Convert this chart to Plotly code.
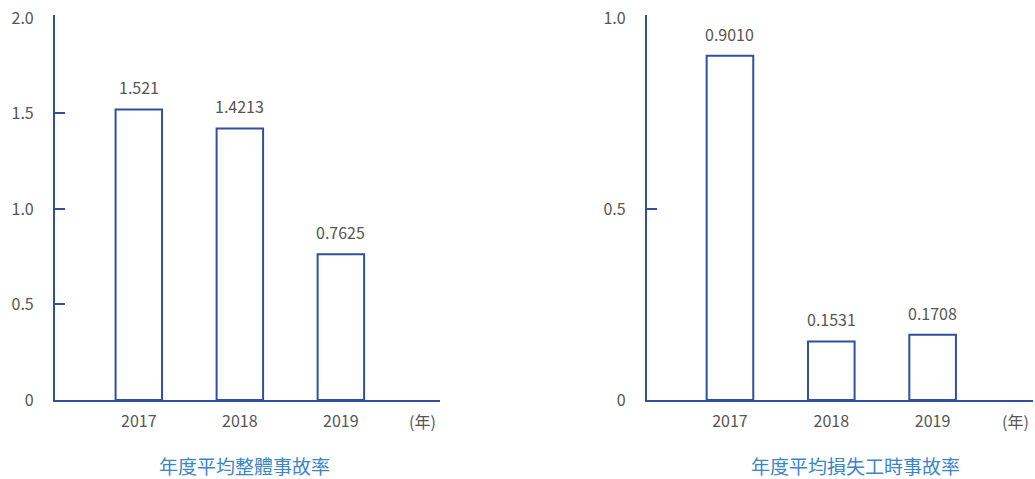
import plotly.graph_objects as go

years = ["2017", "2018", "2019"]
overall_rate = [1.521, 1.4213, 0.7625]
overall_labels = ["1.521", "1.4213", "0.7625"]
lost_time_rate = [0.9010, 0.1531, 0.1708]
lost_time_labels = ["0.9010", "0.1531", "0.1708"]
left_ticks = [0, 0.5, 1.0, 1.5, 2.0]
left_ticktext = ["0", "0.5", "1.0", "1.5", "2.0"]
left_marks = [0.5, 1.0, 1.5]
right_ticks = [0, 0.5, 1.0]
right_ticktext = ["0", "0.5", "1.0"]
right_marks = [0.5]
title_left = "年度平均整體事故率"
title_right = "年度平均損失工時事故率"
unit_label = "(年)"

AX = "#2f4f9f"
TXT = "#555555"
TITLE = "#3a86c8"
FONT = "Noto Sans CJK TC"
FS = 16

fig = go.Figure()
xpos = [0, 1, 2]

for vals, xa, ya in [(overall_rate, "x", "y"), (lost_time_rate, "x2", "y2")]:
    fig.add_trace(go.Bar(
        x=xpos, y=vals,
        marker=dict(color="white", line=dict(color=AX, width=2)),
        width=0.46, cliponaxis=False, xaxis=xa, yaxis=ya, showlegend=False,
        hoverinfo="skip",
    ))

# invisible helper traces so the tick-mark overlay axes are drawn
for xa, ya in [("x", "y3"), ("x2", "y4")]:
    fig.add_trace(go.Scatter(x=[None], y=[None], xaxis=xa, yaxis=ya,
                             mode="markers", showlegend=False, hoverinfo="skip"))

xcommon = dict(
    tickmode="array", tickvals=xpos, ticktext=years, ticks="",
    showline=True, linecolor=AX, linewidth=2, showgrid=False, zeroline=False,
    tickfont=dict(color=TXT, size=FS, family=FONT), ticklabelstandoff=6,
    automargin=False,
)
ycommon = dict(
    showline=True, linecolor=AX, linewidth=2, showgrid=False, zeroline=False,
    ticks="", tickfont=dict(color=TXT, size=FS, family=FONT),
    ticklabelstandoff=16, automargin=False,
)
ymark = dict(
    showline=False, showgrid=False, zeroline=False, showticklabels=False,
    ticks="inside", ticklen=10, tickcolor=AX, tickwidth=2, automargin=False,
    side="left",
)

annotations = []
for xa, ya, vals, labels in [("x", "y", overall_rate, overall_labels),
                             ("x2", "y2", lost_time_rate, lost_time_labels)]:
    for xv, yv, lb in zip(xpos, vals, labels):
        annotations.append(dict(
            text=lb, x=xv, y=yv, xref=xa, yref=ya, xanchor="center",
            yanchor="middle", yshift=22,
            showarrow=False, font=dict(color=TXT, size=FS, family=FONT)))

annotations += [
    dict(text=unit_label, xref="paper", yref="paper", x=0.408, y=0.121,
         xanchor="center", yanchor="middle",
         showarrow=False, font=dict(color=TXT, size=FS, family=FONT)),
    dict(text=unit_label, xref="paper", yref="paper", x=0.981, y=0.121,
         xanchor="center", yanchor="middle",
         showarrow=False, font=dict(color=TXT, size=FS, family=FONT)),
    dict(text=title_left, xref="paper", yref="paper", x=0.236, y=0.029,
         xanchor="center", yanchor="middle",
         showarrow=False, font=dict(color=TITLE, size=19, family=FONT)),
    dict(text=title_right, xref="paper", yref="paper", x=0.827, y=0.029,
         xanchor="center", yanchor="middle",
         showarrow=False, font=dict(color=TITLE, size=19, family=FONT)),
]

fig.update_layout(
    width=1035, height=479,
    margin=dict(l=0, r=0, t=0, b=0),
    paper_bgcolor="white", plot_bgcolor="white",
    font=dict(family=FONT),
    xaxis=dict(domain=[0.0531, 0.425], range=[-0.83, 2.98], anchor="y", **xcommon),
    yaxis=dict(domain=[0.165, 0.969], range=[0, 2.016], anchor="x",
               tickvals=left_ticks, ticktext=left_ticktext, **ycommon),
    yaxis3=dict(overlaying="y", anchor="x", range=[0, 2.016],
                tickvals=left_marks, **ymark),
    xaxis2=dict(domain=[0.625, 0.998], range=[-0.82, 2.99], anchor="y2", **xcommon),
    yaxis2=dict(domain=[0.165, 0.969], range=[0, 1.008], anchor="x2",
                tickvals=right_ticks, ticktext=right_ticktext, **ycommon),
    yaxis4=dict(overlaying="y2", anchor="x2", range=[0, 1.008],
                tickvals=right_marks, **ymark),
    annotations=annotations,
)

fig.write_html("out.html", config={"displayModeBar": False},
               post_script="document.body.style.margin='0px';")
